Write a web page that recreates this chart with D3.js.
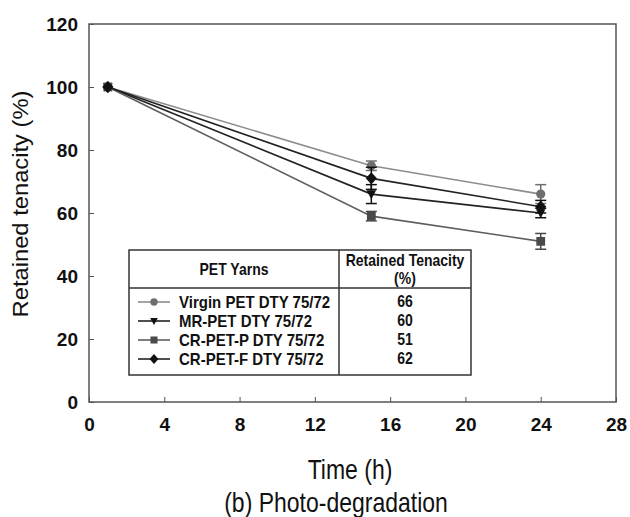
<html>
<head>
<script src="https://cdn.jsdelivr.net/npm/d3@7"></script>
<style>
  body { margin: 0; background: #fff; }
  text { font-family: "Liberation Sans", Arial, sans-serif; }
</style>
</head>
<body>
<svg id="chart" width="630" height="517"></svg>
<script>
// data
var times = [1, 15, 24];
var virgin = [100, 75, 66], virginErr = [0, 1.5, 3];
var mrPet = [100, 66, 60], mrPetErr = [0, 3, 1.5];
var crPetP = [100, 59, 51], crPetPErr = [0, 1.5, 2.5];
var crPetF = [100, 71, 62], crPetFErr = [0, 3.5, 2];
var names = ["Virgin PET DTY 75/72", "MR-PET DTY 75/72", "CR-PET-P DTY 75/72", "CR-PET-F DTY 75/72"];
var retained = ["66", "60", "51", "62"];
var xTicks = [0, 4, 8, 12, 16, 20, 24, 28];
var yTicks = [0, 20, 40, 60, 80, 100, 120];

var series = [
  {name: names[0], vals: virgin, err: virginErr, shape: "circle", line: "#8c8c8c", fill: "#6e6e6e", r: 4.6},
  {name: names[1], vals: mrPet, err: mrPetErr, shape: "tri", line: "#222", fill: "#111", r: 4.8},
  {name: names[2], vals: crPetP, err: crPetPErr, shape: "square", line: "#5e5e5e", fill: "#4a4a4a", r: 4.4},
  {name: names[3], vals: crPetF, err: crPetFErr, shape: "diamond", line: "#222", fill: "#111", r: 5.6}
];

var svg = d3.select("#chart");
var m = {left: 89, top: 24, right: 616, bottom: 402};
var x = d3.scaleLinear().domain([0, 28]).range([m.left, m.right]);
var y = d3.scaleLinear().domain([0, 120]).range([m.bottom, m.top]);

function symPath(s, r) {
  if (s === "tri") return "M" + (-r) + "," + (-r * 0.8) + "L" + r + "," + (-r * 0.8) + "L0," + (r * 1.05) + "Z";
  if (s === "diamond") return "M0," + (-r * 1.1) + "L" + r + ",0L0," + (r * 1.1) + "L" + (-r) + ",0Z";
  if (s === "square") return "M" + (-r) + "," + (-r) + "h" + (2 * r) + "v" + (2 * r) + "h" + (-2 * r) + "Z";
  return d3.symbol().type(d3.symbolCircle).size(Math.PI * r * r)();
}

// frame
svg.append("rect")
  .attr("x", m.left).attr("y", m.top)
  .attr("width", m.right - m.left).attr("height", m.bottom - m.top)
  .attr("fill", "none").attr("stroke", "#555").attr("stroke-width", 1.5);

var xAxis = svg.append("g").attr("transform", "translate(0," + m.bottom + ")")
  .call(d3.axisBottom(x).tickValues(xTicks).tickSizeInner(-5).tickSizeOuter(0).tickPadding(16));
var yAxis = svg.append("g").attr("transform", "translate(" + m.left + ",0)")
  .call(d3.axisLeft(y).tickValues(yTicks).tickSizeInner(-5).tickSizeOuter(0).tickPadding(11));
[xAxis, yAxis].forEach(function(a) {
  a.select(".domain").remove();
  a.selectAll("line").attr("stroke", "#555");
  a.selectAll("text").attr("font-size", 19).attr("font-weight", "bold").attr("fill", "#111")
    .style("font-family", "'Liberation Sans', Arial, sans-serif");
});

svg.append("text").attr("transform", "translate(350,479) scale(1,1.2)").attr("text-anchor", "middle")
  .attr("font-size", 23).attr("fill", "#111").text("Time (h)");
svg.append("text").attr("transform", "translate(336,512) scale(1,1.2)").attr("text-anchor", "middle")
  .attr("font-size", 23).attr("fill", "#111").text("(b) Photo-degradation");
svg.append("text").attr("transform", "translate(28,204) rotate(-90) scale(1.08,1)").attr("text-anchor", "middle")
  .attr("font-size", 22).attr("fill", "#111").text("Retained tenacity (%)");

var line = d3.line().x(function(d) { return x(d[0]); }).y(function(d) { return y(d[1]); });

series.forEach(function(s) {
  var pts = times.map(function(t, i) { return [t, s.vals[i], s.err[i]]; });
  svg.append("path").datum(pts).attr("d", line)
    .attr("fill", "none").attr("stroke", s.line).attr("stroke-width", 1.6);
});

series.forEach(function(s) {
  var pts = times.map(function(t, i) { return [t, s.vals[i], s.err[i]]; });
  var g = svg.append("g");
  pts.filter(function(d) { return d[2] > 0; }).forEach(function(d) {
    var cx = x(d[0]);
    g.append("line").attr("x1", cx).attr("x2", cx).attr("y1", y(d[1] - d[2])).attr("y2", y(d[1] + d[2]))
      .attr("stroke", s.fill).attr("stroke-width", 1.5);
    [d[1] - d[2], d[1] + d[2]].forEach(function(v) {
      g.append("line").attr("x1", cx - 5.5).attr("x2", cx + 5.5).attr("y1", y(v)).attr("y2", y(v))
        .attr("stroke", s.fill).attr("stroke-width", 1.5);
    });
  });
  g.selectAll("path").data(pts).enter().append("path")
    .attr("transform", function(d) { return "translate(" + x(d[0]) + "," + y(d[1]) + ")"; })
    .attr("d", symPath(s.shape, s.r))
    .attr("fill", s.fill);
});

// legend table
var tb = {x0: 129, x1: 471, xm: 339, y0: 250, yh: 288, y1: 375};
var leg = svg.append("g");
leg.append("rect").attr("x", tb.x0).attr("y", tb.y0).attr("width", tb.x1 - tb.x0).attr("height", tb.y1 - tb.y0)
  .attr("fill", "#fff").attr("stroke", "#333").attr("stroke-width", 1.5);
leg.append("line").attr("x1", tb.xm).attr("x2", tb.xm).attr("y1", tb.y0).attr("y2", tb.y1)
  .attr("stroke", "#333").attr("stroke-width", 1.5);
leg.append("line").attr("x1", tb.x0).attr("x2", tb.x1).attr("y1", tb.yh).attr("y2", tb.yh)
  .attr("stroke", "#333").attr("stroke-width", 1.5);

function headText(tx, ty, str) {
  leg.append("text").attr("transform", "translate(" + tx + "," + ty + ") scale(1,1.12)")
    .attr("text-anchor", "middle").attr("font-size", 14).attr("font-weight", "bold").attr("fill", "#111").text(str);
}
headText((tb.x0 + tb.xm) / 2, 275, "PET Yarns");
headText((tb.xm + tb.x1) / 2, 266, "Retained Tenacity");
headText((tb.xm + tb.x1) / 2, 284, "(%)");

var rowY = d3.scalePoint().domain(names).range([302, 359]);
series.forEach(function(s, i) {
  var ry = rowY(s.name);
  leg.append("line").attr("x1", 138).attr("x2", 170).attr("y1", ry).attr("y2", ry)
    .attr("stroke", s.line).attr("stroke-width", 1.6);
  leg.append("path").attr("transform", "translate(154," + ry + ")")
    .attr("d", symPath(s.shape, s.r * 0.8)).attr("fill", s.fill);
  leg.append("text").attr("transform", "translate(179," + (ry + 5.5) + ") scale(1,1.15)")
    .attr("font-size", 15).attr("font-weight", "bold").attr("fill", "#111").text(s.name);
  leg.append("text").attr("transform", "translate(" + ((tb.xm + tb.x1) / 2) + "," + (ry + 5) + ") scale(1,1.12)")
    .attr("text-anchor", "middle").attr("font-size", 14).attr("font-weight", "bold").attr("fill", "#111")
    .text(retained[i]);
});
</script>
</body>
</html>
